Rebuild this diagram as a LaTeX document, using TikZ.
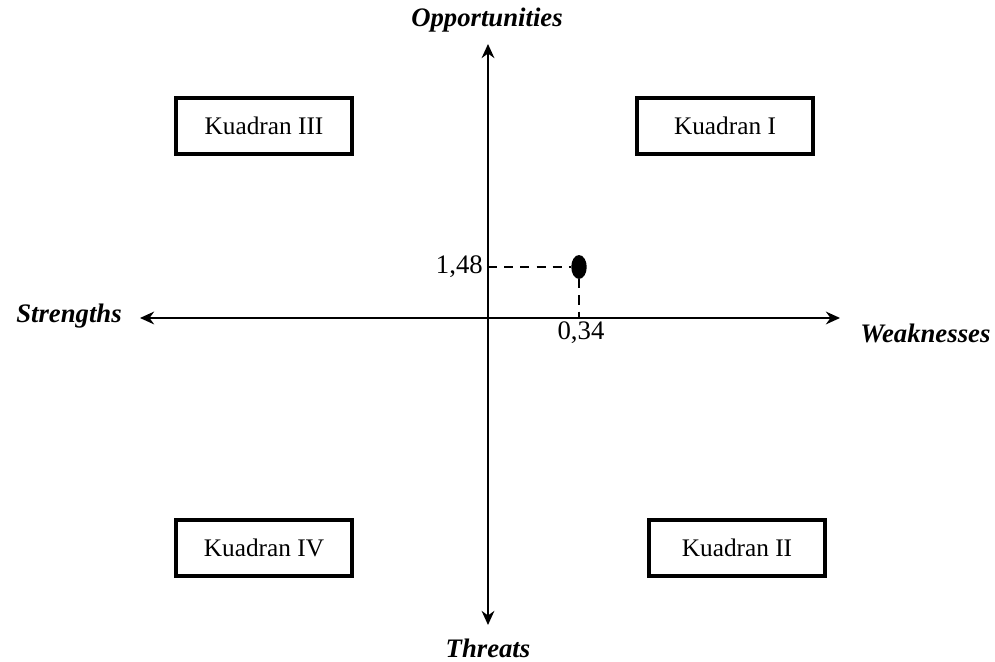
\documentclass[tikz,border=0pt]{standalone}
\usepackage{fontspec}
\setmainfont{Liberation Serif}
\usetikzlibrary{arrows.meta,shapes.geometric}

\begin{document}
\begin{tikzpicture}[
    x=0.025cm, y=0.025cm,
    every node/.style={font=\fontsize{18}{22}\selectfont, inner sep=0pt},
    axislabel/.style={font=\fontsize{19}{23}\selectfont\bfseries\itshape},
    quadbox/.style={draw, line width=2.6pt, minimum width=125pt, minimum height=40pt},
    axisline/.style={line width=1.6pt, {Stealth[length=10pt,width=9pt]}-{Stealth[length=10pt,width=9pt]}},
    guide/.style={line width=2pt, dash pattern=on 6.5pt off 5pt},
]
    \useasboundingbox (0,0) rectangle (995,662);

    \coordinate (o) at (488,344);
    \coordinate (sEnd) at (140,344);
    \coordinate (wEnd) at (840,344);
    \coordinate (oEnd) at (488,618);
    \coordinate (tEnd) at (488,37);

    \draw[axisline] (sEnd) -- (wEnd);
    \draw[axisline] (tEnd) -- (oEnd);

    \node[axislabel] (opp) at (487,642) {Opportunities};
    \node[axislabel] (thr) at (488,14) {Threats};
    \node[axislabel, anchor=east] (str) at (122,346) {Strengths};
    \node[axislabel, anchor=west] (weak) at (860,329) {Weaknesses};

    \foreach \n/\x/\y/\r in {k3/264/536/III, k1/725/536/I, k4/264/114/IV, k2/737/114/II} {
        \node[quadbox] (\n) at (\x,\y) {Kuadran \r};
    }

    % titik posisi
    \node[ellipse, fill, minimum width=11pt, minimum height=17pt] (pt) at (579,395) {};
    \coordinate (yTick) at (o |- pt);
    \coordinate (xTick) at (pt |- o);
    \draw[guide] (yTick) -- (pt.west);
    \draw[guide] (pt.south) -- (xTick);
    \node[anchor=east, font=\fontsize{19}{23}\selectfont] (yVal) at (483,395) {1,48};
    \node[font=\fontsize{19}{23}\selectfont] (xVal) at (581,329) {0,34};

\end{tikzpicture}
\end{document}
